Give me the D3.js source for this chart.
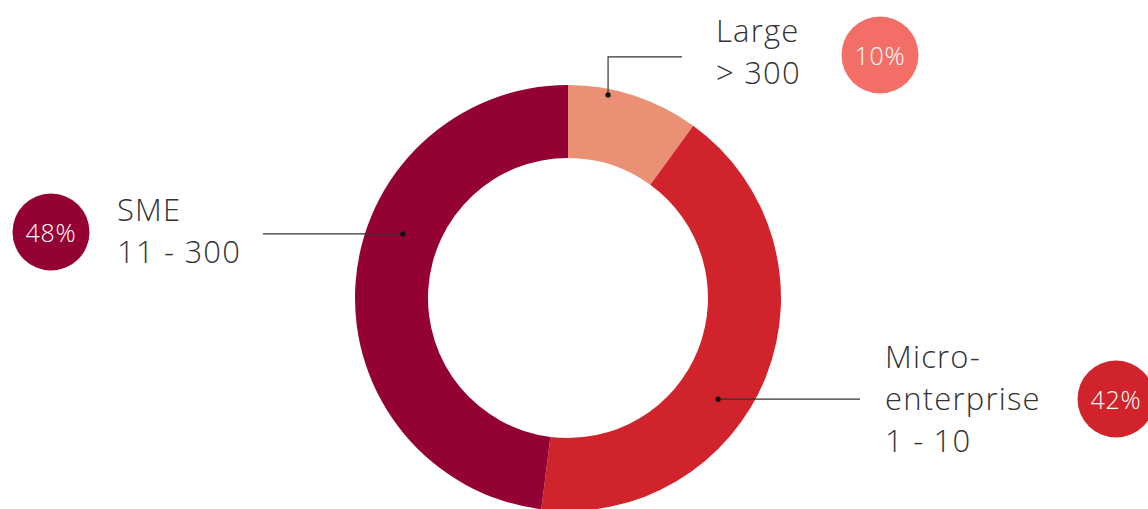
<!DOCTYPE html>
<html>
<head>
<meta charset="utf-8">
<script src="https://cdn.jsdelivr.net/npm/d3@7"></script>
<style>
  html, body { margin: 0; padding: 0; background: #fff; }
  svg { display: block; }
  .lbl { font-family: "Open Sans", "Lato", sans-serif; font-weight: 300; fill: #333; letter-spacing: 1.2px; }
  .pct { font-family: "Open Sans", "Lato", sans-serif; font-weight: 300; fill: #fff; letter-spacing: 0.8px; }
</style>
</head>
<body>
<svg id="chart" width="1148" height="509"></svg>
<script>
// Company size distribution
const categories = ["Large", "Micro-enterprise", "SME"];
const shares = [10, 42, 48];
const labelLines = [["Large", "> 300"], ["Micro-", "enterprise", "1 - 10"], ["SME", "11 - 300"]];
const sliceColors = ["#EA9075", "#D0232B", "#940235"];
const badgeColors = ["#F26E66", "#D0232B", "#940235"];

const W = 1148, H = 509;
const cx = 568, cy = 298, rOuter = 213, rInner = 140;

const svg = d3.select("#chart");
const g = svg.append("g").attr("transform", `translate(${cx},${cy})`);

const pie = d3.pie().sort(null).value(d => d);
const arcs = pie(shares);
const arc = d3.arc().innerRadius(rInner).outerRadius(rOuter);

g.selectAll("path.slice")
  .data(arcs)
  .join("path")
  .attr("class", "slice")
  .attr("d", arc)
  .attr("fill", (d, i) => sliceColors[i]);

// Leader-line anchors: position along each slice's sweep (t) and radius (r)
const anchorCfg = [
  { t: 0.31, r: 207, path: (p) => [[p[0], p[1]], [p[0], p[1] - 38], [p[0] + 74, p[1] - 38]] },
  { t: 0.582, r: 181, path: (p) => [[p[0], p[1]], [860, p[1]]] },
  { t: 0.602, r: 177, path: (p) => [[p[0], p[1]], [263, p[1]]] }
];

const anchors = arcs.map((a, i) => {
  const ang = a.startAngle + (a.endAngle - a.startAngle) * anchorCfg[i].t;
  const r = anchorCfg[i].r;
  return [cx + r * Math.sin(ang), cy - r * Math.cos(ang)];
});

const line = d3.line();
anchors.forEach((p, i) => {
  const pts = anchorCfg[i].path(p);
  svg.append("path")
    .attr("d", line(pts))
    .attr("fill", "none")
    .attr("stroke", "#333")
    .attr("stroke-width", 1.2);
  svg.append("circle")
    .attr("cx", p[0]).attr("cy", p[1]).attr("r", 2.6)
    .attr("fill", "#111");
});

// Category labels
const labelPos = [
  { x: 716, y: 42 },
  { x: 885, y: 368 },
  { x: 117, y: 221 }
];
labelLines.forEach((lines, i) => {
  const t = svg.append("text")
    .attr("class", "lbl")
    .attr("x", labelPos[i].x)
    .attr("y", labelPos[i].y)
    .attr("font-size", 31);
  lines.forEach((s, k) => {
    t.append("tspan")
      .attr("x", labelPos[i].x)
      .attr("dy", k === 0 ? 0 : 42)
      .text(s);
  });
});

// Percentage badges
const badgePos = [[880, 55], [1116, 399], [51, 232]];
const fmt = d => d + "%";
shares.forEach((v, i) => {
  svg.append("circle")
    .attr("cx", badgePos[i][0]).attr("cy", badgePos[i][1]).attr("r", 38.5)
    .attr("fill", badgeColors[i]);
  svg.append("text")
    .attr("class", "pct")
    .attr("x", badgePos[i][0]).attr("y", badgePos[i][1])
    .attr("text-anchor", "middle")
    .attr("dominant-baseline", "central")
    .attr("font-size", 25)
    .text(fmt(v));
});
</script>
</body>
</html>
